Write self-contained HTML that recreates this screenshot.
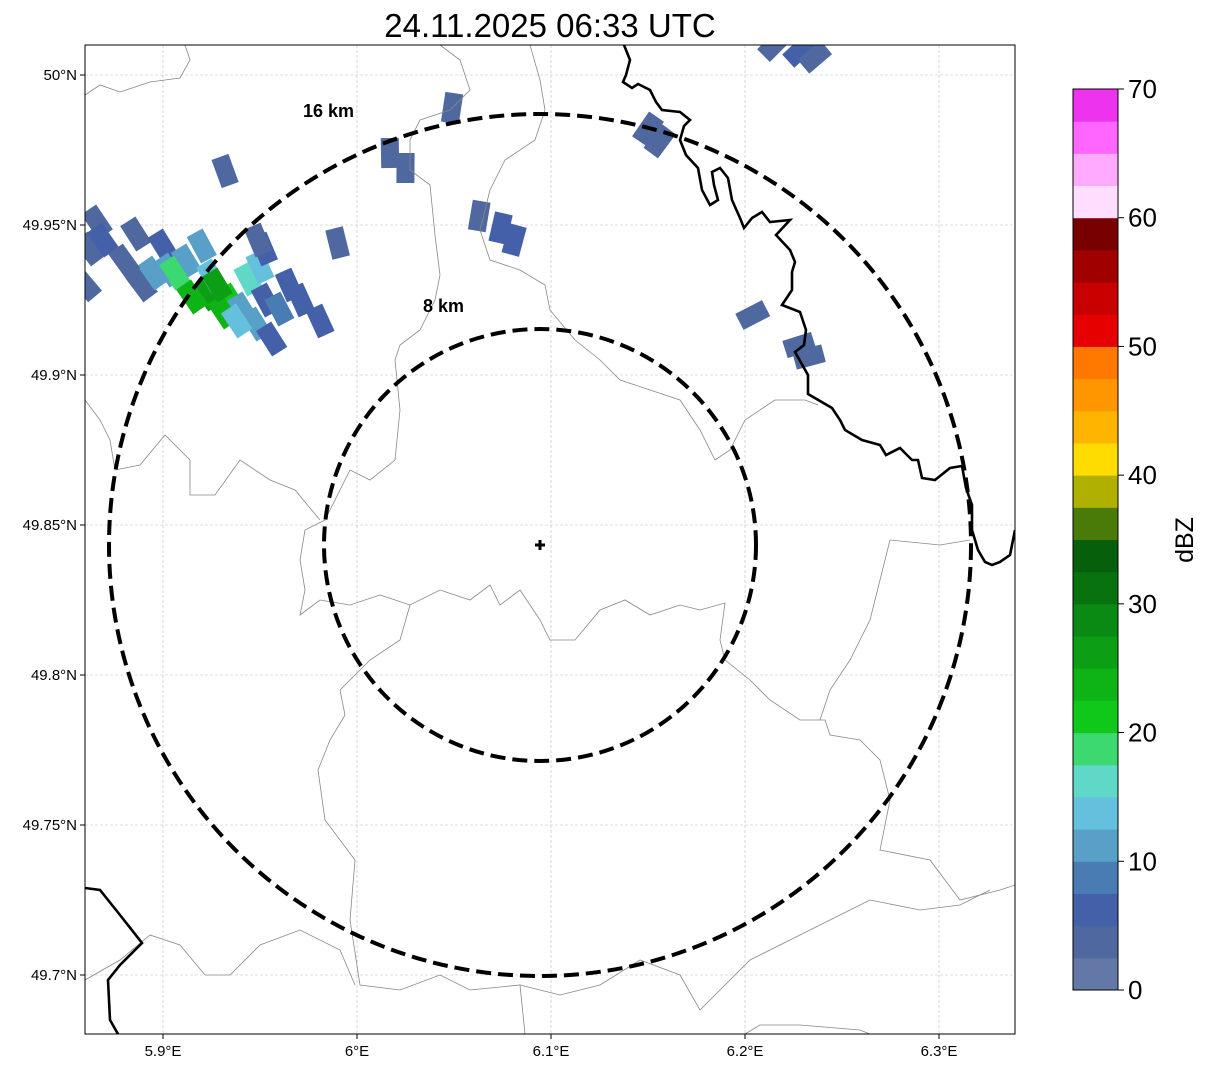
<!DOCTYPE html>
<html><head><meta charset="utf-8"><style>
body{margin:0;background:#fff;font-family:"Liberation Sans",sans-serif}
svg text{font-family:"Liberation Sans",sans-serif}
</style></head><body>
<svg id="s" width="1207" height="1069">
<defs><clipPath id="mc"><rect x="85" y="45" width="930" height="989"/></clipPath></defs>
<text x="550" y="37" font-size="33" text-anchor="middle">24.11.2025 06:33 UTC</text>
<g id="grid"></g>
<g clip-path="url(#mc)">
<g id="cells"></g>
<g fill="none" stroke="#888" stroke-width="0.8">
<polyline points="85,95 100,85 120,92 150,82 180,78 190,60 185,45"/>
<polyline points="440,45 460,60 470,90 450,110 420,120 410,140 410,170 430,185 435,235 440,275 435,300 420,330 400,345 395,360 400,410 395,460 370,480 350,470 325,520 305,530 300,560 305,590 300,615 320,600 350,605 380,595 410,605 440,590 470,600 490,585 500,605 520,590 540,620 550,640 575,640 600,610 625,600 650,615 680,605 700,610 725,603 720,640 725,660 750,680 770,700 800,720 825,720 830,735 860,740 880,760 890,800 880,850 930,860 960,900 1000,890 1015,885"/>
<polyline points="530,45 540,80 545,110 535,140 505,160 490,190 480,230 490,260 520,270 545,285 550,310 575,340 600,360 620,380 650,390 680,400 700,430 715,460 730,450 745,420 775,400 805,400 818,405"/>
<polyline points="85,400 100,420 110,440 115,470 140,465 165,435 190,460 190,495 215,495 240,460 270,480 295,490 320,520"/>
<polyline points="410,605 400,640 370,660 340,690 345,715 330,740 318,770 325,820 355,860 350,920 360,985 400,990 440,975 470,990 520,985 525,1034"/>
<polyline points="85,980 120,960 150,935 180,945 205,975 230,975 260,945 300,930 340,950 355,985"/>
<polyline points="520,985 560,995 600,985 640,960 680,975 700,1010 720,990 750,960 790,940 830,920 870,900 920,910 960,905 990,890"/>
<polyline points="745,1034 760,1025 800,1025 860,1030 870,1034"/>
<polyline points="820,720 830,690 850,660 870,620 880,580 890,540 940,545 970,540"/>
</g>
<g fill="none" stroke="#000" stroke-width="2.6">
<polyline points="624,45 630,60 626,75 623,82 632,88 638,84 650,90 656,102 662,110 680,112 690,120 684,126 680,140 686,155 698,168 702,190 710,205 718,200 714,185 712,172 720,168 728,178 732,200 740,218 744,228 752,218 762,212 770,222 790,220 776,235 790,250 795,262 792,272 792,290 782,305 800,312 806,330 804,345 795,352 808,375 808,394 832,408 840,420 845,430 862,440 880,445 886,455 900,448 912,460 918,460 922,478 935,480 950,468 962,466 966,488 972,505 972,530 978,550 985,562 992,565 1000,562 1010,555 1015,530"/>
<polyline points="85,888 100,890 120,915 142,943 120,965 108,980 110,1020 118,1034"/>
</g>
<circle cx="540" cy="545" r="216" fill="none" stroke="#000" stroke-width="4" stroke-dasharray="15,7"/>
<circle cx="540" cy="545" r="431" fill="none" stroke="#000" stroke-width="4" stroke-dasharray="15,7"/>
<g stroke="#000" stroke-width="3"><line x1="535" y1="545" x2="545" y2="545"/><line x1="540" y1="540" x2="540" y2="550"/></g>
</g>
<text x="303" y="117" font-size="18" font-weight="bold">16 km</text>
<text x="423" y="312" font-size="18" font-weight="bold">8 km</text>
<rect x="85" y="45" width="930" height="989" fill="none" stroke="#000" stroke-width="1"/>
<g id="axes"></g>
<g id="cbar"></g>
<text transform="translate(1193,540) rotate(-90)" font-size="25" text-anchor="middle">dBZ</text>
</svg>
<script>
const lonTicks=[5.9,6.0,6.1,6.2,6.3];
const lonLabels=["5.9°E","6°E","6.1°E","6.2°E","6.3°E"];
const latTicks=[50,49.95,49.9,49.85,49.8,49.75,49.7];
const latLabels=["50°N","49.95°N","49.9°N","49.85°N","49.8°N","49.75°N","49.7°N"];
const cbTicks=[0,10,20,30,40,50,60,70];
const cbColors=["#6478a8","#5068a0","#4460a8","#4a7cb4","#58a0c8","#64c0dc","#60d8c8","#3cd870","#10c81a","#0eb416","#0c9e14","#0a8a12","#08720e","#065f0a","#4a7a08","#b0b000","#ffdc00","#ffb400","#ff9600","#ff7800","#e60000","#c80000","#a00000","#780000","#ffddff","#ffaaff","#ff66ff","#ee33ee"];
const cellLon=[5.866,5.862,5.860,5.886,5.900,5.889,5.903,5.912,5.906,5.923,5.935,5.931,5.944,5.925,5.920,5.950,5.941,5.948,5.953,5.956,5.952,5.965,5.971,5.981,5.949,5.869,5.990,5.932,6.049,6.017,6.025,6.063,6.074,6.081,6.150,6.156,6.204,6.228,6.233,6.215,6.228,6.236,5.915,5.928,5.938,5.960,5.895,5.880];
const cellLat=[49.951,49.942,49.930,49.947,49.943,49.930,49.935,49.938,49.934,49.927,49.925,49.921,49.932,49.933,49.943,49.936,49.922,49.917,49.925,49.912,49.942,49.930,49.925,49.918,49.945,49.945,49.944,49.968,49.989,49.974,49.969,49.953,49.949,49.945,49.982,49.978,49.920,49.910,49.906,50.010,50.008,50.006,49.926,49.930,49.918,49.922,49.934,49.938];
const cellDbz=[3,3,3,4,5,3,10,12,18,25,22,24,15,13,12,14,10,12,7,6,6,6,5,5,4,5,3,3,3,3,3,4,6,5,3,3,3,4,3,3,5,3,24,26,13,8,11,4];
const X=lon=>357+(lon-6.0)*1940, Y=lat=>75+(50-lat)*3000;
const NS="http://www.w3.org/2000/svg";
function mk(t,a,p){const e=document.createElementNS(NS,t);for(const k in a)e.setAttribute(k,a[k]);p.appendChild(e);return e;}
const grid=document.getElementById('grid'),axes=document.getElementById('axes');
lonTicks.forEach((v,i)=>{const x=X(v);
 const l=mk('line',{x1:x,x2:x,y1:45,y2:1034,stroke:'#bbb','stroke-width':0.6,'stroke-dasharray':'3,2'},grid);
 
 
 mk('line',{x1:x,x2:x,y1:1034,y2:1039,stroke:'#000'},axes);
 const t=mk('text',{x:x,y:1056,'font-size':15,'text-anchor':'middle'},axes);t.textContent=lonLabels[i];
 
 });
latTicks.forEach((v,i)=>{const y=Y(v);
 const l=mk('line',{x1:85,x2:1015,y1:y,y2:y,stroke:'#bbb','stroke-width':0.6,'stroke-dasharray':'3,2'},grid);
 
 
 mk('line',{x1:80,x2:85,y1:y,y2:y,stroke:'#000'},axes);
 const t=mk('text',{x:77,y:y+5,'font-size':15,'text-anchor':'end'},axes);t.textContent=latLabels[i];
 
 });
const colorOf=d=>cbColors[Math.max(0,Math.min(27,Math.floor(d/2.5)))];
const cells=document.getElementById('cells');
cellLon.forEach((lo,i)=>{const x=X(lo),y=Y(cellLat[i]);
 const ang=Math.atan2(y-545,x-540)*180/Math.PI+20;
 const r=mk('rect',{x:x-15,y:y-9,width:30,height:18,fill:colorOf(cellDbz[i]),transform:`rotate(${ang} ${x} ${y})`},cells);
 
 });
const cb=document.getElementById('cbar');const cy0=990,cy1=89,h=(cy0-cy1)/28;
cbColors.forEach((c,i)=>{const r=mk('rect',{x:1073,y:cy0-(i+1)*h,width:45,height:h+0.5,fill:c},cb);
 
 });
mk('rect',{x:1073,y:cy1,width:45,height:cy0-cy1,fill:'none',stroke:'#000','stroke-width':1},cb);
cbTicks.forEach(v=>{const y=cy0-(v/70)*(cy0-cy1);
 mk('line',{x1:1118,x2:1124,y1:y,y2:y,stroke:'#000'},cb);
 const t=mk('text',{x:1128,y:y+9,'font-size':26},cb);t.textContent=v;
 
 });
</script>
</body></html>
